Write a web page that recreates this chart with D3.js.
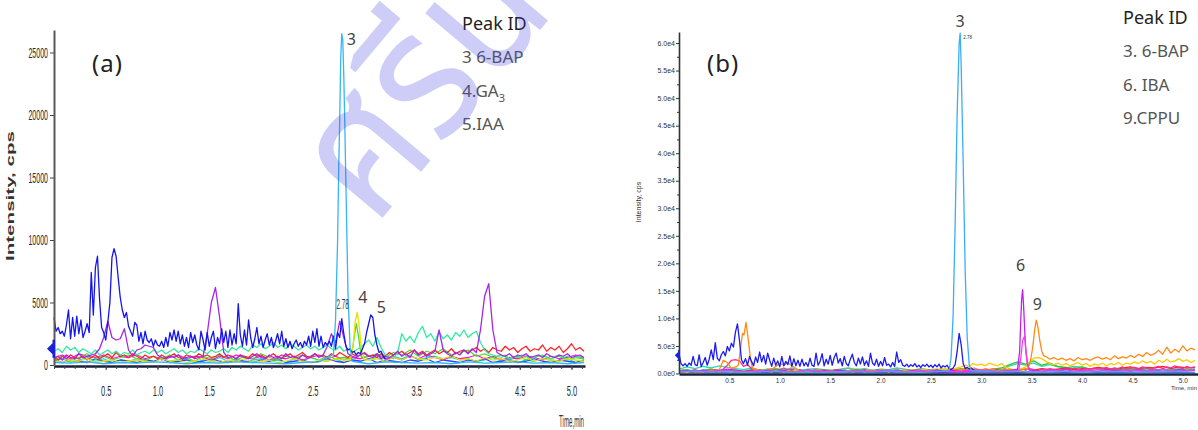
<!DOCTYPE html>
<html>
<head>
<meta charset="utf-8">
<script src="https://cdn.jsdelivr.net/npm/d3@7.9.0/dist/d3.min.js"></script>
<style>
  html, body { margin: 0; padding: 0; background: #fff; }
  svg { display: block; }
</style>
</head>
<body>
<svg id="chart" width="1198" height="430"></svg>
<script>
// ---------- panel (a) data, intensity in cps, sampled every `step` min ----------
const timeTicks = [0.5, 1.0, 1.5, 2.0, 2.5, 3.0, 3.5, 4.0, 4.5, 5.0];
const intensityTicksA = [0, 5000, 10000, 15000, 20000, 25000];

const blueA = [ // step 0.02, 0 - 3.20 min
  3800, 2700, 3000, 2500, 2700, 2300, 3200, 4400, 2100, 3800,
  2300, 3900, 2500, 3600, 2200, 2700, 3300, 2600, 7400, 4000,
  7800, 8700, 5300, 3000, 2600, 2000, 3400, 5000, 8600, 9300,
  8700, 7000, 5400, 4400, 3800, 4200, 3100, 2700, 2300, 3400,
  3200, 1900, 2600, 1700, 2700, 2000, 1800, 2100, 1500, 2000,
  1600, 1500, 1900, 1400, 2200, 1500, 2600, 2000, 2800, 1900,
  2700, 1700, 2400, 1500, 2200, 1400, 2600, 1800, 2400, 1600,
  1200, 2700, 2000, 1200, 2600, 1500, 2200, 2700, 1300, 2200,
  1700, 2900, 1800, 2700, 1400, 2800, 1600, 2500, 1700, 4900,
  2400, 1500, 2800, 1600, 3600, 2200, 1400, 2100, 3000, 1700,
  2300, 1400, 2000, 2500, 1600, 2200, 1400, 1900, 2500, 1700,
  2700, 1500, 2100, 1400, 1900, 1300, 1700, 2000, 1500, 1800,
  1400, 1900, 1600, 2300, 1500, 2700, 1800, 2900, 1500, 2300,
  1400, 1800, 1600, 1900, 1500, 2300, 1300, 2600, 2200, 3700,
  2500, 1500, 1200, 1300, 1000, 1100, 800, 1000, 900, 1300,
  1700, 2600, 3300, 4000, 3800, 2400, 1600, 1000, 1100, 700,
  500
];
const purpleA = [ // step 0.04
  500, 700, 400, 800, 600, 500, 900, 600, 700, 800,
  900, 1300, 2200, 3500, 2200, 2000, 2100, 2900, 1200, 700,
  1200, 1300, 1600, 1500, 1400, 800, 600, 500, 700, 600,
  800, 500, 600, 700, 500, 600, 700, 2500, 5000, 6200,
  3800, 1000, 600, 700, 500, 800, 600, 500, 700, 900,
  600, 500, 800, 600, 700, 500, 900, 600, 700, 500,
  800, 600, 700, 900, 600, 800, 1500, 2500, 1800, 3500,
  2200, 900, 700, 600, 800, 1000, 700, 600, 900, 500,
  700, 600, 800, 1100, 700, 900, 600, 1200, 800, 1000,
  700, 900, 1100, 2800, 1200, 900, 700, 1000, 800, 1200,
  900, 1300, 1000, 2800, 5500, 6500, 2800, 1000, 800, 700,
  900, 600, 800, 700, 900, 600, 700, 800, 600, 900,
  700, 600, 800, 700, 900, 600, 700, 800, 600
];
const greenA = [ // step 0.04
  1100, 1300, 1000, 1500, 1200, 1400, 1000, 1300, 1100, 900,
  1200, 800, 1000, 1200, 900, 1100, 800, 1000, 900, 1200,
  800, 1000, 1100, 900, 1200, 1000, 1200, 900, 1100, 1300,
  1000, 1200, 900, 1100, 1000, 1300, 1100, 900, 1200, 1000,
  1100, 1300, 1000, 1400, 1200, 1500, 1300, 1100, 1600, 1400,
  1700, 1300, 1500, 1800, 1400, 1600, 1300, 1700, 1500, 1200,
  1400, 1600, 1300, 1500, 1200, 1400, 1600, 1300, 1200, 1500,
  1100, 1300, 1000, 1200, 1400, 1700, 2000, 1500, 2200, 1400,
  800, 600, 500, 1000, 2500, 1900, 2300, 1800, 2600, 3100,
  2200, 2500, 1900, 2700, 2100, 2400, 2000, 2600, 2300, 2800,
  2200, 2500, 2700, 1800, 1200, 900, 800, 700, 600, 800,
  500, 700, 600, 800, 700, 500, 600, 800, 700, 600,
  500, 700, 800, 600, 700, 500, 600, 700, 600
];
const redA = [ // step 0.04
  600, 400, 700, 500, 800, 600, 500, 700, 400, 600,
  800, 500, 700, 900, 600, 1000, 700, 800, 600, 900,
  700, 500, 800, 600, 700, 500, 800, 600, 700, 900,
  600, 500, 800, 700, 600, 900, 700, 800, 600, 700,
  900, 600, 800, 700, 500, 800, 700, 600, 900, 700,
  800, 600, 700, 900, 600, 800, 700, 900, 600, 800,
  1000, 700, 600, 900, 700, 800, 600, 900, 700, 1000,
  800, 600, 900, 700, 800, 900, 700, 800, 600, 900,
  700, 1000, 800, 900, 1100, 800, 1000, 1200, 900, 1100,
  800, 1000, 1200, 900, 1100, 1000, 1300, 900, 1100, 1200,
  1000, 1200, 1400, 1100, 1300, 1000, 1400, 1200, 1100, 1500,
  1200, 1400, 1000, 1300, 1500, 1100, 1300, 1200, 1600, 1100,
  1400, 1200, 1500, 1000, 1300, 1700, 1200, 1400, 1100
];
const magentaA = [ // step 0.08
  600, 800, 500, 900, 700, 600, 800, 500, 700, 600,
  800, 500, 700, 400, 600, 800, 500, 700, 600, 400,
  700, 500, 800, 600, 500, 700, 400, 600, 500, 700,
  400, 600, 800, 500, 700, 400, 600, 500, 700, 800,
  500, 600, 400, 700, 500, 800, 600, 400, 700, 500,
  600, 800, 500, 700, 400, 600, 500, 700, 600, 400,
  700, 500, 600, 800, 500
];
const limeA = [ // step 0.08
  400, 700, 300, 600, 900, 500, 700, 400, 600, 800,
  500, 300, 700, 500, 800, 400, 600, 300, 700, 500,
  800, 600, 400, 700, 500, 900, 600, 400, 700, 500,
  800, 600, 400, 700, 500, 600, 800, 500, 700, 900,
  600, 1000, 800, 1200, 700, 1100, 900, 1300, 800, 1000,
  1200, 700, 900, 600, 800, 500, 700, 400, 600, 800,
  500, 700, 400, 600, 500
];
const limePeakTimesA = [2.87, 2.90, 2.92, 2.94, 2.97];
const limePeakA = [500, 2200, 3300, 2400, 600];
const tealA = [ // step 0.08
  300, 500, 200, 400, 600, 300, 500, 200, 400, 300,
  500, 400, 200, 600, 300, 400, 500, 200, 400, 300,
  600, 300, 500, 200, 400, 500, 300, 400, 200, 500,
  300, 600, 400, 300, 500, 200, 400, 300, 500, 600,
  300, 700, 500, 800, 400, 600, 700, 500, 600, 400,
  500, 300, 400, 600, 300, 500, 200, 400, 300, 500,
  400, 300, 500, 200, 400
];
const yellowA = [ // step 0.08
  300, 200, 400, 300, 500, 200, 300, 400, 200, 300,
  400, 300, 200, 500, 300, 400, 200, 300, 500, 300,
  200, 400, 300, 500, 200, 300, 400, 200, 300, 500,
  300, 200, 400, 300, 500, 400, 300, 600, 400, 500,
  300, 600, 400, 700, 500, 400, 600, 500, 700, 400,
  500, 300, 600, 400, 500, 300, 400, 600, 300, 500,
  400, 300, 500, 400, 300
];
const yellowPeakTimesA = [2.86, 2.89, 2.91, 2.93, 2.95, 2.97, 3.00];
const yellowPeakA = [400, 1500, 3500, 4200, 3000, 1200, 400];
const blueLowA = [ // step 0.08
  300, 200, 400, 300, 200, 500, 300, 200, 400, 300,
  200, 400, 300, 500, 200, 300, 400, 200, 300, 500,
  300, 200, 400, 300, 200, 400, 300, 500, 200, 300,
  400, 200, 300, 500, 300, 200, 400, 300, 500, 200,
  400, 300, 200, 400, 300, 500, 200, 400, 300, 200,
  400, 300, 500, 200, 300, 400, 200, 300, 500, 300,
  200, 400, 300, 200, 400
];
const cyanA = [ // step 0.16
  200, 150, 250, 100, 200, 150, 250, 200, 100, 200,
  150, 250, 200, 150, 100, 200, 250, 150, 200, 100,
  250, 200, 150, 200, 100, 250, 150, 200, 250, 150,
  200, 100, 200
];
const cyanPeakTimesA = [2.70, 2.72, 2.74, 2.75, 2.76, 2.77, 2.78, 2.79, 2.80, 2.81, 2.82, 2.84, 2.86, 2.88];
const cyanPeakA = [850, 3600, 10000, 15500, 19500, 24500, 26500, 26000, 23000, 19000, 14500, 5800, 1500, 300];

const legendA = [['3 6-BAP', ''], ['4.GA', '3'], ['5.IAA', '']];

// ---------- panel (b) data ----------
const intensityTicksB = [0, 5000, 10000, 15000, 20000, 25000, 30000, 35000, 40000, 45000, 50000, 55000, 60000];
const intensityLabelsB = ['0.0e0', '5.0e3', '1.0e4', '1.5e4', '2.0e4', '2.5e4', '3.0e4', '3.5e4', '4.0e4', '4.5e4', '5.0e4', '5.5e4', '6.0e4'];
const minorTicksB = [2500, 7500, 12500, 17500, 22500, 27500, 32500, 37500, 42500, 47500, 52500, 57500];

const blueB = [ // step 0.02, 0 - 2.94 min
  3600, 1800, 1400, 1800, 1300, 1900, 1500, 3100, 1600, 1400,
  3400, 1300, 2000, 2900, 1500, 2600, 4300, 2500, 5600, 2800,
  2300, 3400, 4000, 3200, 4900, 4100, 5500, 4800, 7500, 9000,
  6000, 2500, 1800, 2700, 1500, 3100, 2200, 1400, 3000, 2000,
  3900, 2100, 3300, 1700, 3700, 2400, 1300, 2800, 1500, 2300,
  1200, 3100, 1400, 2200, 1600, 3200, 1300, 2700, 1400, 2400,
  1300, 2600, 1400, 2000, 1300, 2800, 1500, 1300, 3700, 1500,
  2200, 3600, 1400, 2600, 1700, 3300, 1500, 2900, 3700, 1900,
  2700, 1400, 3100, 1800, 1400, 2600, 3500, 2000, 1400, 2800,
  1700, 3000, 1500, 2300, 1300, 3700, 1900, 1500, 2600, 1300,
  2200, 1400, 2900, 1500, 1700, 1200, 2000, 1300, 3900, 2000,
  2500, 1500, 1300, 1700, 1200, 1600, 1300, 1800, 1200, 1500,
  1100, 1600, 1300, 1700, 1200, 1500, 1100, 1600, 1200, 1700,
  1000, 1400, 1200, 1500, 900, 700, 1000, 1600, 4000, 7300,
  5200, 1800, 900, 1100, 800, 1000, 700, 500
];
const cyanB = [ // step 0.16
  300, 400, 250, 350, 200, 300, 400, 250, 300, 200,
  350, 300, 250, 400, 300, 200, 350, 300, 250, 400,
  300, 350, 250, 300, 400, 200, 300, 350, 250, 300,
  400, 300, 250
];
const cyanPeakTimesB = [2.68, 2.70, 2.72, 2.74, 2.76, 2.78, 2.79, 2.80, 2.82, 2.84, 2.86, 2.88, 2.90];
const cyanPeakB = [500, 3000, 10500, 27000, 47000, 60000, 61800, 56000, 38000, 18500, 6500, 1600, 500];
const orangeB = [ // step 0.04
  400, 300, 500, 400, 600, 300, 500, 400, 600, 500,
  700, 2400, 2000, 900, 1200, 3000, 7500, 9200, 3000, 800,
  600, 500, 800, 700, 1300, 1800, 1500, 2000, 1400, 900,
  500, 400, 600, 300, 500, 700, 400, 600, 500, 300,
  600, 400, 500, 700, 400, 600, 300, 500, 600, 400,
  700, 500, 300, 600, 400, 500, 700, 400, 600, 500,
  300, 600, 400, 700, 500, 600, 400, 500, 700, 600,
  800, 900, 700, 1000, 800, 600, 900, 700, 800, 500,
  700, 600, 800, 500, 700, 600, 900, 2500, 8000, 8800,
  4500, 3100, 2600, 2900, 2500, 2800, 2400, 2700, 2300, 2900,
  2500, 2700, 2400, 2800, 3000, 2600, 2900, 2500, 3200, 2700,
  3000, 2800, 3300, 2900, 3500, 3100, 3800, 3300, 3600, 4200,
  3500, 4800, 3700, 4400, 3900, 5000, 4100, 4600, 4300
];
const orangePeakTimesB1 = [0.57, 0.59, 0.61, 0.63, 0.645, 0.665, 0.685, 0.71, 0.73];
const orangePeakB1 = [1200, 1600, 4500, 7300, 7000, 9300, 6500, 2600, 900];
const orangePeakTimesB2 = [3.46, 3.49, 3.51, 3.53, 3.545, 3.56, 3.58, 3.60, 3.62];
const orangePeakB2 = [700, 2500, 4800, 8000, 9700, 8600, 6000, 4000, 3200];
const purpleB = [ // step 0.08
  300, 500, 400, 600, 300, 500, 800, 600, 400, 500,
  300, 600, 400, 500, 300, 400, 600, 300, 500, 400,
  600, 300, 500, 400, 300, 500, 400, 600, 300, 500,
  400, 300, 600, 400, 500, 300, 400, 600, 500, 400,
  300, 500, 400, 600, 500, 400, 600, 500, 700, 400,
  600, 500, 400, 700, 500, 600, 400, 700, 500, 600,
  400, 500, 700, 500, 600
];
const purplePeakTimesB = [3.36, 3.38, 3.39, 3.40, 3.41, 3.42, 3.43, 3.44, 3.46, 3.48];
const purplePeakB = [800, 4000, 9000, 13500, 15200, 12000, 8000, 4500, 1500, 600];
const magentaB = [ // step 0.16
  300, 500, 400, 600, 300, 500, 400, 300, 600, 400,
  300, 500, 400, 600, 300, 500, 400, 300, 500, 600,
  400, 500, 300, 600, 400, 500, 700, 400, 600, 500,
  700, 400, 600
];
const magentaPeakTimesB = [3.37, 3.39, 3.41, 3.43, 3.45, 3.47];
const magentaPeakB = [600, 2500, 6000, 6800, 2500, 700];
const yellowB = [ // step 0.04
  300, 400, 200, 500, 300, 400, 300, 500, 200, 400,
  300, 500, 400, 300, 600, 400, 500, 300, 400, 600,
  300, 500, 400, 300, 500, 400, 300, 500, 400, 600,
  300, 400, 500, 300, 600, 400, 300, 500, 400, 300,
  600, 400, 500, 300, 400, 500, 300, 600, 400, 500,
  400, 600, 300, 500, 700, 400, 600, 500, 700, 400,
  600, 800, 500, 700, 600, 800, 700, 900, 800, 1000,
  1200, 1500, 1300, 1800, 1500, 1700, 1400, 1900, 1600, 1400,
  1800, 1200, 900, 700, 600, 900, 1200, 2000, 2800, 2900,
  2700, 2200, 1800, 1600, 1900, 1500, 1800, 1400, 1700, 2000,
  1500, 1800, 1300, 1700, 1500, 1900, 1400, 1800, 1600, 2000,
  1500, 1900, 1700, 2100, 1800, 2300, 1900, 2200, 1700, 2400,
  2000, 2600, 2100, 2300, 2700, 2200, 2500, 2000, 2400
];
const pinkB = [ // step 0.04
  400, 600, 300, 500, 700, 400, 600, 300, 500, 700,
  500, 800, 1500, 2400, 2500, 2300, 1300, 1600, 900, 500,
  700, 400, 600, 800, 500, 700, 1000, 600, 800, 500,
  700, 400, 600, 500, 700, 400, 600, 300, 500, 700,
  400, 600, 500, 300, 600, 400, 700, 500, 400, 600,
  500, 300, 600, 400, 700, 500, 400, 600, 300, 500,
  700, 400, 600, 500, 300, 600, 400, 700, 500, 600,
  400, 500, 700, 400, 600, 300, 500, 700, 400, 600,
  500, 800, 600, 700, 500, 800, 600, 900, 700, 500,
  800, 600, 900, 700, 800, 600, 900, 700, 1000, 800,
  700, 900, 800, 1000, 700, 900, 1100, 800, 1000, 900,
  1200, 800, 1000, 1100, 900, 1200, 1000, 800, 1100, 1300,
  900, 1200, 1000, 1400, 1100, 900, 1300, 1000, 1200
];
const redB = [ // step 0.08
  300, 500, 200, 400, 600, 300, 500, 400, 300, 600,
  400, 500, 300, 400, 600, 300, 500, 400, 300, 500,
  600, 400, 300, 500, 400, 600, 300, 500, 400, 600,
  500, 400, 700, 500, 600, 400, 700, 500, 600, 800,
  500, 700, 600, 800, 600, 900, 700, 800, 1000, 700,
  900, 800, 1100, 900, 800, 1000, 1200, 900, 1100, 1000,
  1300, 900, 1200, 1000, 1100
];
const tealB = [ // step 0.08
  800, 1200, 900, 1300, 1000, 1400, 1100, 900, 700, 1000,
  600, 800, 900, 700, 1000, 600, 800, 900, 700, 600,
  800, 1000, 700, 900, 600, 800, 700, 1000, 800, 600,
  900, 700, 800, 600, 900, 700, 800, 600, 500, 700,
  700, 1400, 1800, 1500, 1900, 1300, 1600, 1200, 1000, 1300,
  1100, 800, 1000, 700, 900, 800, 1000, 700, 900, 600,
  800, 700, 900, 600, 800
];
const greenB = [ // step 0.08
  500, 700, 400, 600, 800, 500, 700, 600, 400, 700,
  500, 600, 800, 500, 700, 400, 600, 500, 700, 400,
  600, 500, 800, 600, 400, 700, 500, 600, 400, 700,
  500, 600, 700, 800, 600, 900, 700, 500, 600, 800,
  1000, 1600, 2100, 1700, 2300, 1500, 1900, 1300, 1100, 900,
  1200, 800, 1000, 700, 900, 600, 800, 700, 900, 600,
  800, 500, 700, 600, 800
];
const blueLowB = [ // step 0.16
  200, 300, 150, 250, 300, 200, 150, 300, 250, 200,
  300, 150, 250, 200, 300, 250, 150, 200, 300, 250,
  200, 150, 300, 250, 200, 300, 150, 250, 200, 300,
  250, 200, 150
];

const legendB = [['3. 6-BAP', ''], ['6. IBA', ''], ['9.CPPU', '']];

// ---------- drawing ----------
const svg = d3.select('#chart');
const labelFont = '"Noto Sans", "Open Sans", sans-serif';
const axisFont = '"Liberation Sans", Arial, sans-serif';

function toPoints(s) {
  let pts = s.values.map((v, i) => ({ t: +(i * s.step).toFixed(3), v }));
  (s.peaks || []).forEach(([times, vals]) => {
    const lo = times[0], hi = times[times.length - 1];
    pts = pts.filter(p => p.t < lo || p.t > hi);
    times.forEach((t, i) => pts.push({ t, v: vals[i] }));
  });
  return pts.sort((a, b) => a.t - b.t);
}

function drawTraces(g, series, x, y) {
  const line = d3.line().x(d => x(d.t)).y(d => y(d.v));
  g.selectAll('path.trace')
    .data(series)
    .join('path')
    .attr('class', 'trace')
    .attr('d', s => line(toPoints(s)))
    .attr('fill', 'none')
    .attr('stroke', s => s.color)
    .attr('stroke-width', 1.3)
    .attr('stroke-linejoin', 'round');
}

function drawLegend(g, x0, title, items, baseY, gap) {
  g.append('text').attr('x', x0).attr('y', baseY)
    .attr('font-family', labelFont).attr('font-size', 18).attr('fill', '#222')
    .text(title);
  items.forEach(([txt, sub], i) => {
    const t = g.append('text').attr('x', x0).attr('y', baseY + gap * (i + 1))
      .attr('font-family', labelFont).attr('font-size', 17).attr('fill', '#555')
      .text(txt);
    if (sub) t.append('tspan').attr('font-size', 11).attr('dy', 5).text(sub);
  });
}

function arrowMarker(g, cx, cy, s) {
  g.append('path')
    .attr('d', `M${cx - 7 * s},${cy} L${cx - 1 * s},${cy - 6 * s} L${cx - 1 * s},${cy + 6 * s} Z M${cx - 1.5 * s},${cy - 9 * s} h${2.5 * s} v${18 * s} h${-2.5 * s} Z`)
    .attr('fill', '#1a22d8');
}

// ---- panel (a) ----
const xA = d3.scaleLinear().domain([0, 5.13]).range([54, 585]);
const yA = d3.scaleLinear().domain([0, 26800]).range([365, 30]);
const gA = svg.append('g');

const seriesA = [
  { color: '#12dada', step: 0.08, values: tealA },
  { color: '#2a46ff', step: 0.08, values: blueLowA },
  { color: '#ff14c8', step: 0.08, values: magentaA },
  { color: '#49db2c', step: 0.08, values: limeA, peaks: [[limePeakTimesA, limePeakA]] },
  { color: '#ff2424', step: 0.04, values: redA },
  { color: '#2eeaa0', step: 0.04, values: greenA },
  { color: '#e3e300', step: 0.08, values: yellowA, peaks: [[yellowPeakTimesA, yellowPeakA]] },
  { color: '#a724ea', step: 0.04, values: purpleA },
  { color: '#1414ee', step: 0.02, values: blueA },
  { color: '#35b6f7', step: 0.16, values: cyanA, peaks: [[cyanPeakTimesA, cyanPeakA]] }
];
drawTraces(gA, seriesA, xA, yA);

// minor x ticks every 0.1 min
gA.append('g')
  .attr('transform', `translate(0,${yA(0) + 1})`)
  .call(d3.axisBottom(xA).ticks(50).tickSize(3).tickSizeOuter(0).tickFormat(''))
  .call(g => g.select('.domain').attr('stroke', '#1b1f3a').attr('stroke-width', 2.5))
  .call(g => g.selectAll('.tick line').attr('stroke', '#444'));

gA.append('g')
  .attr('transform', `translate(0,${yA(0) + 1})`)
  .call(d3.axisBottom(xA).tickValues(timeTicks).tickFormat(d3.format('.1f')).tickSize(4).tickPadding(15))
  .call(g => g.select('.domain').remove())
  .call(g => g.selectAll('.tick line').attr('stroke', '#444'))
  .call(g => g.selectAll('.tick text')
    .attr('font-family', axisFont).attr('font-size', 15).attr('fill', '#2a2a2a')
    .attr('transform', 'scale(0.5,1)'));

const sxA = 0.47;
gA.append('g')
  .attr('transform', `translate(${xA(0)},0)`)
  .call(d3.axisLeft(yA).tickValues(intensityTicksA).tickFormat(d3.format('d')).tickSize(4).tickPadding(2).tickSizeOuter(0))
  .call(g => g.select('.domain').attr('stroke', '#5a5a5a').attr('stroke-width', 2))
  .call(g => g.selectAll('.tick line').attr('stroke', '#444'))
  .call(g => g.selectAll('.tick text')
    .attr('font-family', axisFont).attr('font-size', 15).attr('fill', '#2a2a2a')
    .attr('x', -6 / sxA).attr('transform', `scale(${sxA},1)`));

gA.append('text')
  .attr('transform', `translate(14,196) rotate(-90) scale(2.06,1)`)
  .attr('text-anchor', 'middle')
  .attr('font-family', axisFont).attr('font-size', 10).attr('font-weight', 'bold').attr('fill', '#333')
  .text('Intensity, cps');

gA.append('text')
  .attr('transform', `translate(${xA(5.13) - 1},427) scale(0.36,1)`)
  .attr('text-anchor', 'end')
  .attr('font-family', axisFont).attr('font-size', 17).attr('fill', '#333')
  .text('Time,min');

arrowMarker(gA, xA(0), yA(1300), 1);

gA.append('text').attr('x', 92).attr('y', 72)
  .attr('font-family', labelFont).attr('font-size', 24).attr('letter-spacing', 1).attr('fill', '#222')
  .text('(a)');

const peakLabelsA = [
  { text: '3', t: 2.79, v: 26500, dx: 4, dy: 11 },
  { text: '4', t: 2.93, v: 4200, dx: 1, dy: -10 },
  { text: '5', t: 3.07, v: 4000, dx: 5, dy: -2 }
];
peakLabelsA.forEach(p => {
  gA.append('text').attr('x', xA(p.t) + p.dx).attr('y', yA(p.v) + p.dy)
    .attr('font-family', labelFont).attr('font-size', 16).attr('fill', '#444')
    .text(p.text);
});
gA.append('text')
  .attr('transform', `translate(${xA(2.73)},${yA(4500)}) scale(0.45,1)`)
  .attr('font-family', axisFont).attr('font-size', 14).attr('fill', '#333')
  .text('2.78');

drawLegend(gA, 462, 'Peak ID', legendA, 30, 33.4);

// ---- panel (b) ----
const xB = d3.scaleLinear().domain([0, 5.15]).range([679, 1198]);
const yB = d3.scaleLinear().domain([0, 62000]).range([373.5, 32]);
const gB = svg.append('g');

const seriesB = [
  { color: '#2a46ff', step: 0.16, values: blueLowB },
  { color: '#22dcb4', step: 0.08, values: tealB },
  { color: '#35c43c', step: 0.08, values: greenB },
  { color: '#ff2020', step: 0.08, values: redB },
  { color: '#ff2e8e', step: 0.04, values: pinkB },
  { color: '#ffc800', step: 0.04, values: yellowB },
  { color: '#ff8a14', step: 0.04, values: orangeB, peaks: [[orangePeakTimesB1, orangePeakB1], [orangePeakTimesB2, orangePeakB2]] },
  { color: '#1c1cf0', step: 0.02, values: blueB },
  { color: '#c21ef0', step: 0.08, values: purpleB, peaks: [[purplePeakTimesB, purplePeakB]] },
  { color: '#f23cf2', step: 0.16, values: magentaB, peaks: [[magentaPeakTimesB, magentaPeakB]] },
  { color: '#3aaef8', step: 0.16, values: cyanB, peaks: [[cyanPeakTimesB, cyanPeakB]] }
];
drawTraces(gB, seriesB, xB, yB);

gB.append('g')
  .attr('transform', `translate(0,${yB(0) + 0.5})`)
  .call(d3.axisBottom(xB).tickValues(timeTicks).tickFormat(d3.format('.1f')).tickSize(2).tickPadding(2).tickSizeOuter(0))
  .call(g => g.select('.domain').attr('stroke', '#16283a').attr('stroke-width', 2.5))
  .call(g => g.selectAll('.tick line').attr('stroke', '#333'))
  .call(g => g.selectAll('.tick text').attr('font-family', axisFont).attr('font-size', 6.5).attr('fill', '#333'));

gB.append('g')
  .attr('transform', `translate(${xB(0)},0)`)
  .call(d3.axisLeft(yB).tickValues(minorTicksB).tickSize(2).tickFormat(''))
  .call(g => g.select('.domain').remove())
  .call(g => g.selectAll('.tick line').attr('stroke', '#333'));

gB.append('g')
  .attr('transform', `translate(${xB(0)},0)`)
  .call(d3.axisLeft(yB).tickValues(intensityTicksB).tickFormat((d, i) => intensityLabelsB[i]).tickSize(3).tickPadding(1).tickSizeOuter(0))
  .call(g => g.select('.domain').attr('stroke', '#333').attr('stroke-width', 1.6))
  .call(g => g.selectAll('.tick line').attr('stroke', '#333'))
  .call(g => g.selectAll('.tick text').attr('font-family', axisFont).attr('font-size', 7).attr('fill', '#333'));

gB.append('text')
  .attr('transform', `translate(641,202) rotate(-90)`)
  .attr('text-anchor', 'middle')
  .attr('font-family', axisFont).attr('font-size', 7).attr('fill', '#333')
  .text('Intensity, cps');

gB.append('text')
  .attr('x', xB(5.15) - 1).attr('y', 390)
  .attr('text-anchor', 'end')
  .attr('font-family', axisFont).attr('font-size', 6).attr('fill', '#333')
  .text('Time, min');

arrowMarker(gB, xB(0), yB(3300), 0.6);

gB.append('text').attr('x', 707).attr('y', 72)
  .attr('font-family', labelFont).attr('font-size', 24).attr('letter-spacing', 1).attr('fill', '#222')
  .text('(b)');

const peakLabelsB = [
  { text: '3', t: 2.79, v: 62000, dx: 0, dy: -5 },
  { text: '6', t: 3.41, v: 15200, dx: -2, dy: -19 },
  { text: '9', t: 3.545, v: 9700, dx: 1, dy: -10 }
];
peakLabelsB.forEach(p => {
  gB.append('text').attr('x', xB(p.t) + p.dx).attr('y', yB(p.v) + p.dy)
    .attr('text-anchor', 'middle')
    .attr('font-family', labelFont).attr('font-size', 16).attr('fill', '#444')
    .text(p.text);
});
gB.append('text')
  .attr('x', xB(2.79) + 3).attr('y', yB(62000) + 7)
  .attr('font-family', axisFont).attr('font-size', 4.5).attr('fill', '#333')
  .text('2.78');

drawLegend(gB, 1123, 'Peak ID', legendB, 24, 33.4);

// ---- watermark ----
svg.append('text')
  .attr('transform', 'translate(374,228) rotate(-50) scale(1.1,1.2)')
  .attr('font-family', '"Noto Sans Thai", "Noto Sans Thai UI", Loma, Garuda, Norasi, "Tlwg Typo", sans-serif')
  .attr('font-size', 150)
  .attr('fill', 'rgb(60,60,225)')
  .attr('fill-opacity', 0.26)
  .text('ศรีนครินทรวิโรฒ');
</script>
</body>
</html>
